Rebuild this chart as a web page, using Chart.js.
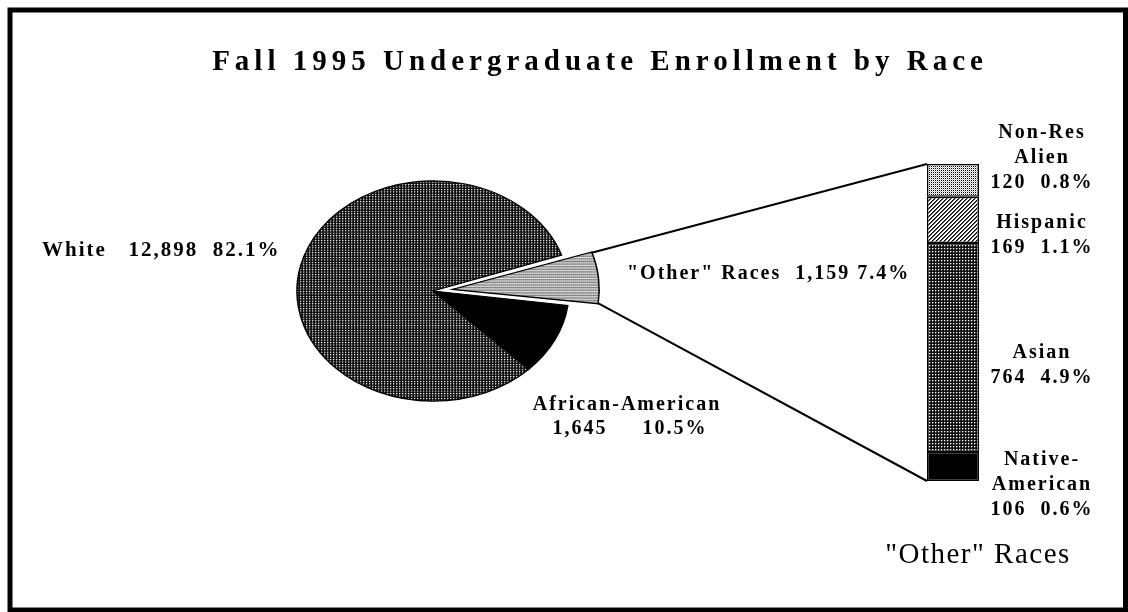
<!DOCTYPE html>
<html>
<head>
<meta charset="utf-8">
<script src="https://cdn.jsdelivr.net/npm/chart.js@4.4.1/dist/chart.umd.min.js"></script>
<style>
  body { margin: 0; background: #fff; }
  #wrap { position: relative; width: 1128px; height: 612px; }
  #pieChart { position: absolute; left: 0; top: 0; }
  #barChart { position: absolute; left: 917px; top: 164px; }
</style>
</head>
<body>
<div id="wrap">
  <canvas id="pieChart" width="1128" height="612"></canvas>
  <canvas id="barChart" width="72" height="317"></canvas>
</div>
<script>
// pie: Fall 1995 undergraduate enrollment
const raceNames = ['"Other" Races', 'African-American', 'White'];
const raceCounts = [1159, 1645, 12898];
const racePcts = [7.4, 10.5, 82.1];

// stacked bar: breakdown of "Other" races (bottom to top)
const otherNames = ['Native-American', 'Asian', 'Hispanic', 'Non-Res Alien'];
const otherLines = [['Native-', 'American'], ['Asian'], ['Hispanic'], ['Non-Res', 'Alien']];
const otherCounts = [106, 764, 169, 120];
const otherPcts = [0.6, 4.9, 1.1, 0.8];

const titleText = 'Fall 1995 Undergraduate Enrollment by Race';
const serif = '"Liberation Serif", "Times New Roman", serif';

// halftone fills like the printout
function makePattern(size, bg, dots) {
    const c = document.createElement('canvas');
    c.width = size; c.height = size;
    const g = c.getContext('2d');
    g.fillStyle = bg;
    g.fillRect(0, 0, size, size);
    dots.forEach(d => { g.fillStyle = d[2]; g.fillRect(d[0], d[1], 1, 1); });
    return g.createPattern(c, 'repeat');
}
const darkDots = makePattern(3, '#111', [[0, 0, '#fff'], [1, 0, '#666'], [0, 1, '#666']]);
const lightDots = makePattern(2, '#fff', [[0, 0, '#000'], [1, 1, '#bbb']]);
const hatch = makePattern(4, '#fff', [[3, 0, '#000'], [2, 1, '#000'], [1, 2, '#000'], [0, 3, '#000'],
                                       [0, 0, '#555'], [3, 1, '#555'], [2, 2, '#555'], [1, 3, '#555']]);

const fmt = n => n.toLocaleString('en-US');
const squashY = 0.81;

// bar chart first so the pie can draw connectors to it
const barColors = ['#000', darkDots, hatch, lightDots];
const barChart = new Chart(document.getElementById('barChart'), {
    type: 'bar',
    data: {
        labels: ['Other'],
        datasets: otherNames.map((name, i) => ({
            label: name,
            data: [otherCounts[i]],
            backgroundColor: barColors[i],
            borderColor: '#000',
            borderWidth: 1.5,
            borderSkipped: false,
            barPercentage: 52 / 72,
            categoryPercentage: 1
        }))
    },
    options: {
        responsive: false,
        animation: false,
        events: [],
        layout: { padding: 0 },
        plugins: { legend: { display: false }, tooltip: { enabled: false } },
        scales: {
            x: { stacked: true, display: false },
            y: { stacked: true, display: false, min: 0, max: otherCounts.reduce((a, b) => a + b, 0) }
        }
    }
});

const ellipse = {
    id: 'ellipse',
    beforeDatasetsDraw(chart) {
        const ctx = chart.ctx;
        const a = chart.getDatasetMeta(0).data[0];
        ctx.save();
        ctx.translate(a.x, a.y);
        ctx.scale(1, squashY);
        ctx.translate(-a.x, -a.y);
    },
    afterDatasetsDraw(chart) {
        chart.ctx.restore();
    }
};

function drawText(ctx, str, x, y, font, spacing, align) {
    ctx.font = font;
    ctx.letterSpacing = spacing + 'px';
    ctx.textAlign = align || 'center';
    ctx.textBaseline = 'alphabetic';
    ctx.fillText(str, x, y);
}

const annotations = {
    id: 'annotations',
    afterDraw(chart) {
        const ctx = chart.ctx;
        ctx.save();
        ctx.fillStyle = '#000';
        ctx.strokeStyle = '#000';

        // frame
        ctx.lineWidth = 5;
        ctx.strokeRect(10, 10, 1115.5, 600);

        // connectors from the "Other" slice to the bar
        const arc = chart.getDatasetMeta(0).data[0];
        const mid = (arc.startAngle + arc.endAngle) / 2;
        const circ = arc.endAngle - arc.startAngle;
        const off = (arc.options.offset || 0) / 4 * (2 - Math.sin(Math.min(Math.PI, circ)));
        const pt = ang => [
            arc.x + off * Math.cos(mid) + arc.outerRadius * Math.cos(ang),
            arc.y + squashY * (off * Math.sin(mid) + arc.outerRadius * Math.sin(ang))
        ];
        const bc = barChart.canvas;
        const topBar = barChart.getDatasetMeta(otherNames.length - 1).data[0];
        const botBar = barChart.getDatasetMeta(0).data[0];
        const bx = bc.offsetLeft + topBar.x - topBar.width / 2;
        const p1 = pt(arc.startAngle), p2 = pt(arc.endAngle);
        ctx.lineWidth = 2;
        ctx.beginPath();
        ctx.moveTo(p1[0], p1[1]);
        ctx.lineTo(bx, bc.offsetTop + topBar.y);
        ctx.moveTo(p2[0], p2[1]);
        ctx.lineTo(bx, bc.offsetTop + botBar.base);
        ctx.stroke();

        // title
        drawText(ctx, titleText, 600, 70, 'bold 29px ' + serif, 5);

        // pie labels
        const f = 'bold 20px ' + serif;
        drawText(ctx, raceNames[2] + '   ' + fmt(raceCounts[2]) + '  ' + racePcts[2] + '%', 42, 256, 'bold 21px ' + serif, 2, 'left');
        drawText(ctx, raceNames[0] + '  ' + fmt(raceCounts[0]) + ' ' + racePcts[0] + '%', 627, 279, f, 2, 'left');
        drawText(ctx, raceNames[1], 627, 410, f, 2);
        drawText(ctx, fmt(raceCounts[1]) + '     ' + racePcts[1] + '%', 630, 434, f, 2);

        // bar labels
        const lastBase = [490, 358, 228, 163];
        otherLines.forEach((lines, i) => {
            const rows = lines.concat([otherCounts[i] + '  ' + otherPcts[i] + '%']);
            rows.forEach((r, j) => {
                drawText(ctx, r, 1042, lastBase[i] - (lines.length - 1) * 25 + j * 25, f, 2);
            });
        });

        drawText(ctx, raceNames[0], 978, 563, '29px ' + serif, 1.5);
        ctx.restore();
    }
};

new Chart(document.getElementById('pieChart'), {
    type: 'pie',
    data: {
        labels: raceNames,
        datasets: [{
            data: raceCounts,
            backgroundColor: [lightDots, '#000', darkDots],
            borderColor: '#000',
            borderWidth: 1.5,
            borderJoinStyle: 'miter',
            offset: [78, 0, 0],
            clip: false
        }]
    },
    options: {
        responsive: false,
        animation: false,
        events: [],
        rotation: 71,
        radius: 136,
        layout: { padding: { left: 0, right: 262, top: 0, bottom: 30 } },
        plugins: { legend: { display: false }, tooltip: { enabled: false } }
    },
    plugins: [ellipse, annotations]
});
</script>
</body>
</html>
